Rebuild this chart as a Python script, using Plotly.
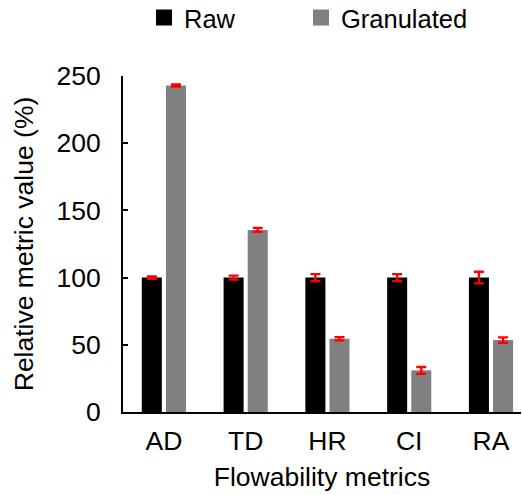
import plotly.graph_objects as go

categories = ["AD", "TD", "HR", "CI", "RA"]
raw_values = [100, 100, 100, 100, 100]
raw_errors = [0.8, 1.5, 2.6, 2.6, 4.3]
gran_values = [243, 135.5, 54.5, 31, 53.5]
gran_errors = [0.8, 1.5, 1.2, 2.5, 2.0]
y_ticks = [0, 50, 100, 150, 200, 250]

FONT = "Liberation Sans, Arial, sans-serif"
FS = 26.5
LFS = 25.5
RAW_COLOR = "#000000"
GRAN_COLOR = "#808080"

fig = go.Figure()
fig.add_trace(go.Bar(
    name="Raw", x=categories, y=raw_values, showlegend=False,
    marker=dict(color=RAW_COLOR, line=dict(width=0)),
    error_y=dict(type="data", array=raw_errors, color="#ff0000", thickness=2.4, width=5),
))
fig.add_trace(go.Bar(
    name="Granulated", x=categories, y=gran_values, showlegend=False,
    marker=dict(color=GRAN_COLOR, line=dict(width=0)),
    error_y=dict(type="data", array=gran_errors, color="#ff0000", thickness=2.4, width=5),
))
# legend entries (square swatches), one legend box per entry
for name, col, lg in [("Raw", RAW_COLOR, "legend"), ("Granulated", GRAN_COLOR, "legend2")]:
    fig.add_trace(go.Scatter(
        name=name, x=[None], y=[None], mode="markers",
        marker=dict(symbol="square", size=16, color=col, line=dict(width=0)),
        showlegend=True, legend=lg,
    ))

leg_common = dict(
    orientation="h", xref="container", yref="container",
    xanchor="left", yanchor="middle",
    font=dict(family=FONT, size=LFS, color="#000000"),
    bgcolor="rgba(0,0,0,0)", itemsizing="trace",
)

fig.update_layout(
    width=522, height=495,
    margin=dict(l=123, r=1, t=76, b=83),
    paper_bgcolor="white", plot_bgcolor="white",
    font=dict(family=FONT, size=FS, color="#000000"),
    barmode="group", bargap=0.41, bargroupgap=0.17,
    showlegend=True,
    legend=dict(x=144 / 522, y=1 - 18 / 495, **leg_common),
    legend2=dict(x=301 / 522, y=1 - 18 / 495, **leg_common),
    xaxis=dict(
        range=[-0.5, 4.367], showline=True, linecolor="#000000", linewidth=2,
        ticks="", showgrid=False, zeroline=False,
        ticklabelstandoff=4,
        title=dict(text="Flowability metrics", standoff=13, font=dict(family=FONT, size=FS)),
    ),
    yaxis=dict(
        range=[0, 250], tickvals=y_ticks, showline=True, linecolor="#000000", linewidth=2,
        ticks="inside", ticklen=5, tickwidth=2, tickcolor="#000000",
        showgrid=False, zeroline=False, ticklabelstandoff=15,
        title=dict(text="Relative metric value (%)", standoff=15, font=dict(family=FONT, size=FS)),
    ),
)

fig.write_html("out.html")
